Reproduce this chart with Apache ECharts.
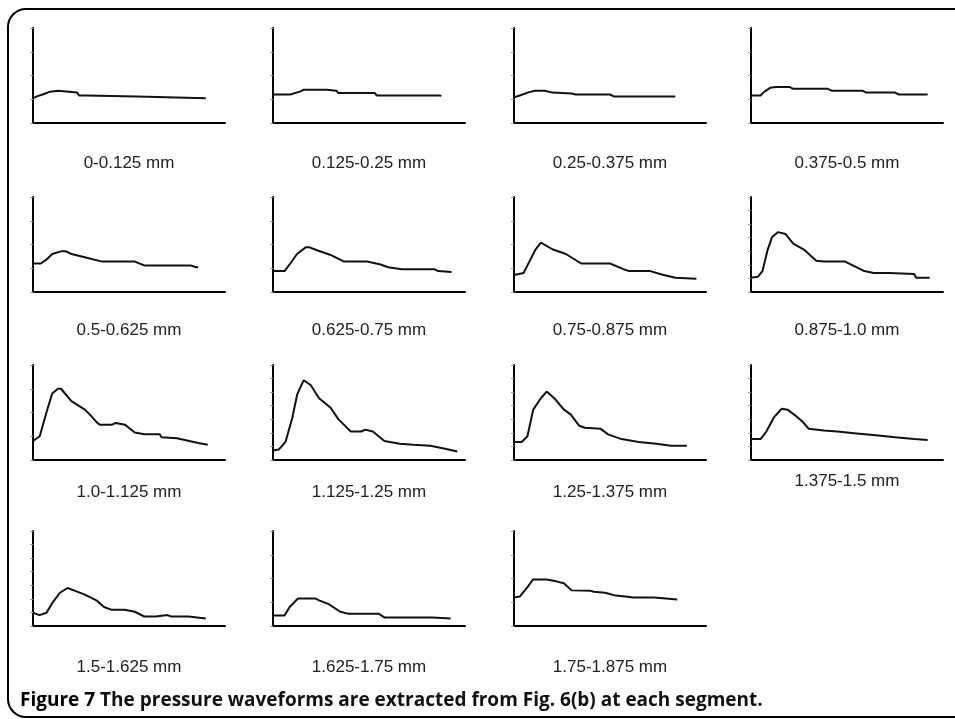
<!DOCTYPE html>
<html lang="en">
<head>
<meta charset="UTF-8">
<title>Figure 7 - pressure waveforms</title>
<script src="https://cdn.jsdelivr.net/npm/echarts/dist/echarts.min.js"></script>
<style>
  html, body { margin: 0; padding: 0; background: #fff; }
  #chart { width: 955px; height: 719px; }
</style>
</head>
<body>
<div id="chart"></div>
<script>
// segment labels, one per small panel
var segmentLabels = [
  '0-0.125 mm', '0.125-0.25 mm', '0.25-0.375 mm', '0.375-0.5 mm',
  '0.5-0.625 mm', '0.625-0.75 mm', '0.75-0.875 mm', '0.875-1.0 mm',
  '1.0-1.125 mm', '1.125-1.25 mm', '1.25-1.375 mm', '1.375-1.5 mm',
  '1.5-1.625 mm', '1.625-1.75 mm', '1.75-1.875 mm'
];

// waveforms: [time %, pressure % of axis]
var w1 = [[0,26],[2,28],[5,30],[9,33],[13,34],[14,32],[23,32],[24,29],[28,29],[29,28],[54,28],[55,26],[90,26]];
var w2 = [[0,30],[9,30],[10,32],[14,33],[16,35],[28,35],[29,34],[33,34],[34,31.5],[53,31.5],[54,29],[87,29],[87.5,28]];
var w3 = [[0,27],[3,29],[7,32],[11,34],[16,34],[20,32],[30,31],[32,30],[50,30],[52,28],[84,28]];
var w4 = [[0,29],[5,29],[7,33],[10,37],[13,38],[20,38],[22,36],[40,36],[42,34],[58,34],[60,32],[75,32],[77,30],[92,30]];
var w5 = [[0,30],[4,30],[7,34],[10,40],[15,43],[17,43],[20,40],[28,36],[36,32],[53,32],[58,28],[82,28],[85,26],[86,26]];
var w6 = [[0,22],[6,22],[9,30],[12.5,40],[17,47],[19,47],[23,44],[30,39],[37,32],[49,32],[56,29],[60,26],[67,24],[84,24],[86,22],[93,21]];
var w7 = [[0,18],[5,20],[7,28],[11,44],[14,52],[20,45],[27,40],[35,30],[50,30],[57,24],[60,22],[71,22],[77,18.5],[84,15],[95,14]];
var w8 = [[0,15],[3.5,16],[6,22],[8.6,44],[11,58],[14,63],[18,61],[22,51],[28,44],[34,33],[38,32],[49,32],[53,28],[59,22],[64,20],[72,20],[73,19],[85,19],[86,15],[93,15]];
var w9 = [[0,20],[3.5,25],[7,50],[10,70],[13,75],[14.6,75],[20,62],[27,53],[29.5,48],[33.5,39],[35,37],[41,37],[43,39],[48,37],[53,29],[58,27],[66,27],[67,24],[75,23],[86,18],[91,16]];
var w10 = [[0,10],[3,11],[6.5,19],[10,44],[12.6,69],[16,84],[19.6,79],[24,65],[30,55],[34,43],[40.5,30],[46,30],[48,32],[52,30],[58,20],[66,17],[73,16],[82,15],[89,12],[96,9]];
var w11 = [[0,19],[4,19],[7,25],[10,53],[14,65],[17,72],[21,65],[26,53],[29.5,48],[34,36],[37,34],[45,33],[49,27],[56,22],[65,19],[74,17],[82,15],[90,15]];
var w12 = [[0,22],[5,22],[8,30],[12,45],[16,54],[19,53],[23,47],[27,40],[30,33],[38,31],[45,30],[55,28],[65,26],[75,24],[85,22],[92,21]];
var w13 = [[0,14],[3.4,11.5],[7,14],[10,24],[14,35],[18,40],[22,37],[27,33],[33,27],[37,20],[41,17],[47.6,17],[48,16],[53,15],[58,10],[64,10],[65,11.5],[70,11.5],[72,10],[81,10],[82,8],[90,8]];
var w14 = [[0,11],[6,11],[8.7,20],[13,29],[22,29],[24,27],[29,23],[35,15],[39,13],[55,13],[58,9],[83,9],[84,8],[92.5,8]];
var w15 = [[0,30],[3,31],[7,41],[10,49],[17,49],[22,47],[26,45],[30,37.5],[40,37],[41.5,36],[47.5,35],[53,32],[58,31],[62,30],[73,30],[74,28],[85,28]];

var waveforms = [w1, w2, w3, w4, w5, w6, w7, w8, w9, w10, w11, w12, w13, w14, w15];
// number of tick intervals on each little y axis
var tickSplits = [4, 4, 4, 4, 4, 4, 4, 7, 4, 7, 7, 7, 7, 4, 4];

var chart = echarts.init(document.getElementById('chart'));

var colX = [33, 273, 514, 751];
var rowY = [28, 197, 365, 531];
var labelY = [163, 330, 492, 667];
var gridW = 192, gridH = 95;

var grids = [], xAxes = [], yAxes = [], series = [], titles = [];
for (var i = 0; i < waveforms.length; i++) {
  var r = Math.floor(i / 4), c = i % 4;
  grids.push({ left: colX[c], top: rowY[r], width: gridW, height: gridH });
  xAxes.push({
    type: 'value', gridIndex: i, min: 0, max: 100,
    axisLine: { show: true, lineStyle: { color: '#000', width: 2 } },
    axisTick: { show: false }, axisLabel: { show: false }, splitLine: { show: false }
  });
  yAxes.push({
    type: 'value', gridIndex: i, min: 0, max: 100, interval: 100 / tickSplits[i],
    axisLine: { show: true, lineStyle: { color: '#000', width: 2 } },
    axisTick: { show: true, length: 3, lineStyle: { color: '#999', width: 1 } },
    axisLabel: { show: false }, splitLine: { show: false }
  });
  series.push({
    type: 'line', xAxisIndex: i, yAxisIndex: i, data: waveforms[i],
    showSymbol: false, silent: true,
    lineStyle: { color: '#111', width: 2 }
  });
  var ly = labelY[r];
  if (i === 11) ly = 481;
  titles.push({
    text: segmentLabels[i], left: colX[c] + gridW / 2, top: ly - 8, textAlign: 'center', padding: 0,
    textStyle: { fontFamily: 'Liberation Sans, Arial, sans-serif', fontSize: 17, fontWeight: 'normal', color: '#222' }
  });
}

titles.push({
  text: '{b|Figure 7} {n|The pressure waveforms are extracted from Fig. 6(b) at each segment.}',
  left: 20, top: 691, padding: 0,
  textStyle: {
    rich: {
      b: { fontFamily: 'Open Sans', fontSize: 19, fontWeight: 'bold', color: '#000' },
      n: { fontFamily: 'Open Sans', fontSize: 19, fontWeight: 'bold', color: '#111' }
    }
  }
});

chart.setOption({
  animation: false,
  title: titles,
  grid: grids,
  xAxis: xAxes,
  yAxis: yAxes,
  series: series,
  graphic: [{
    type: 'rect', silent: true,
    shape: { x: 8, y: 9, width: 965, height: 708, r: 18 },
    style: { fill: 'none', stroke: '#000', lineWidth: 2 }
  }]
});
</script>
</body>
</html>
